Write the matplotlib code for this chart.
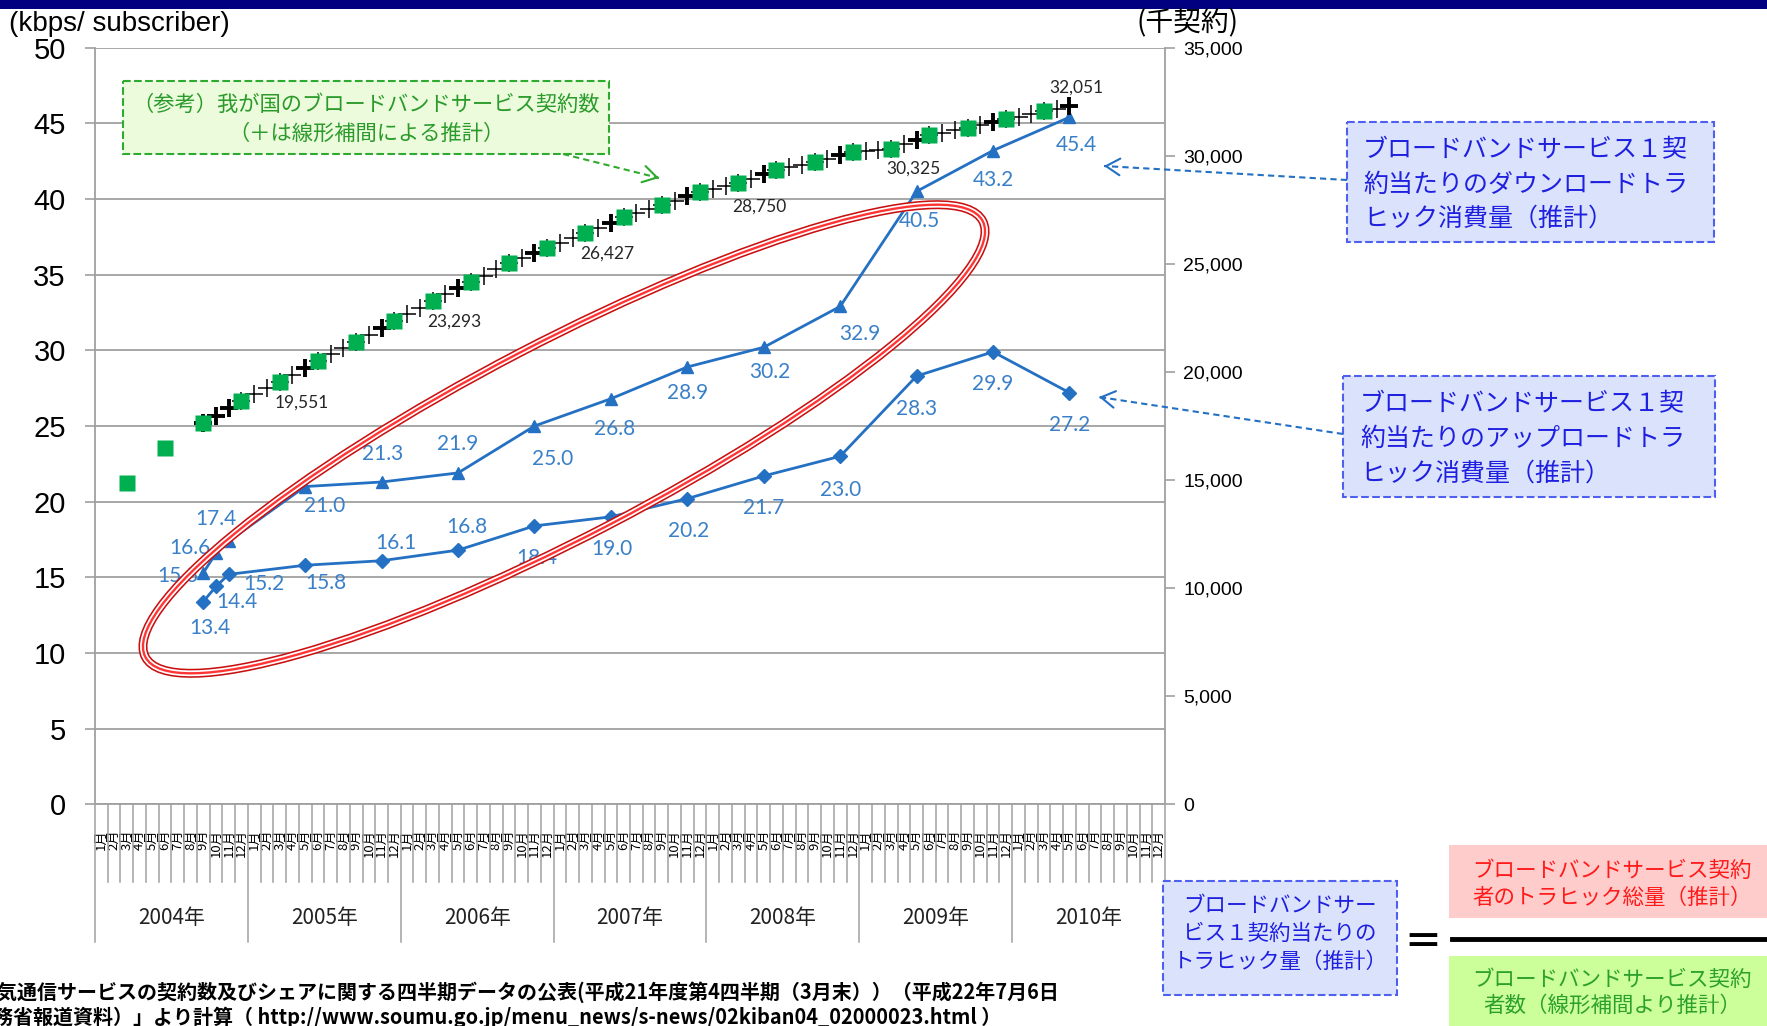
import matplotlib
matplotlib.use('Agg')
import matplotlib.pyplot as plt
import pandas as pd
from matplotlib.patches import Ellipse, Rectangle, FancyArrowPatch
from matplotlib.lines import Line2D
from matplotlib.transforms import Affine2D, blended_transform_factory

JP = 'Noto Sans CJK JP'
plt.rcParams['font.family'] = [JP, 'DejaVu Sans']

# ---------------- data ----------------
years = ['2004年', '2005年', '2006年', '2007年', '2008年', '2009年', '2010年']
month_names = ['1月', '2月', '3月', '4月', '5月', '6月', '7月', '8月', '9月', '10月', '11月', '12月']

traffic_months = ['2004-09', '2004-10', '2004-11', '2005-05', '2005-11', '2006-05', '2006-11',
                  '2007-05', '2007-11', '2008-05', '2008-11', '2009-05', '2009-11', '2010-05']
download_kbps = [15.3, 16.6, 17.4, 21.0, 21.3, 21.9, 25.0, 26.8, 28.9, 30.2, 32.9, 40.5, 43.2, 45.4]
upload_kbps = [13.4, 14.4, 15.2, 15.8, 16.1, 16.8, 18.4, 19.0, 20.2, 21.7, 23.0, 28.3, 29.9, 27.2]

quarter_months = ['2004-03', '2004-06', '2004-09', '2004-12', '2005-03', '2005-06', '2005-09', '2005-12',
                  '2006-03', '2006-06', '2006-09', '2006-12', '2007-03', '2007-06', '2007-09', '2007-12',
                  '2008-03', '2008-06', '2008-09', '2008-12', '2009-03', '2009-06', '2009-09', '2009-12',
                  '2010-03']
subs_quarterly = [14880, 16500, 17620, 18660, 19551, 20520, 21400, 22360,
                  23293, 24180, 25020, 25720, 26427, 27150, 27730, 28310,
                  28750, 29330, 29720, 30180, 30325, 30940, 31300, 31690,
                  32051]

# monthly estimates ("+" markers), Sep 2004 .. May 2010
est_first, est_last = '2004-09', '2010-05'
subs_estimated = [17620, 17970, 18310, 18660, 18960, 19250, 19551, 19870, 20200, 20520,
                  20810, 21110, 21400, 21720, 22040, 22360, 22670, 22980, 23293, 23590,
                  23880, 24180, 24460, 24740, 25020, 25250, 25490, 25720, 25960, 26190,
                  26427, 26670, 26910, 27150, 27340, 27540, 27730, 27920, 28120, 28310,
                  28460, 28600, 28750, 28940, 29140, 29330, 29460, 29590, 29720, 29870,
                  30030, 30180, 30230, 30280, 30325, 30530, 30740, 30940, 31060, 31180,
                  31300, 31430, 31560, 31690, 31810, 31930, 32051, 32170, 32290]

labelled_quarters = ['2005-03', '2006-03', '2007-03', '2008-03', '2009-03', '2010-03']

left_ticks = [0, 5, 10, 15, 20, 25, 30, 35, 40, 45, 50]
right_ticks = [0, 5000, 10000, 15000, 20000, 25000, 30000, 35000]

# ---------------- styling ----------------
W, H = 1767, 1026
LINE = '#2470c2'
LBL = '#3a80c8'
GRID = '#a0a0a0'

dl_off = [(-18, -2), (-19, 4), (-9, 16), (14, -14), (1, 20), (0, 21), (13, -24),
          (3, -22), (0, -19), (4, -18), (14, -20), (2, -21), (0, -21), (5, -20)]
ul_off = [(5, -19), (15, -11), (25, -7), (15, -13), (10, 13), (6, 17), (2, -23),
          (1, -23), (1, -23), (0, -23), (0, -24), (0, -24), (0, -23), (0, -23)]
sub_off = [(16, -15), (16, -15), (16, -15), (15, -17), (16, -14), (23, 17)]


def idx(s):
    y, m = map(int, s.split('-'))
    return (y - 2004) * 12 + m - 1


fig = plt.figure(figsize=(W / 100, H / 100), dpi=100)
PX = Affine2D().scale(1 / W, -1 / H).translate(0, 1) + fig.transFigure

ax = fig.add_axes([95 / W, 1 - 804.4 / H, 1070 / W, 756.8 / H])
ax2 = ax.twinx()

tx = [idx(m) for m in traffic_months]
qx = [idx(m) for m in quarter_months]
ex = [idx(str(p)) for p in pd.period_range(est_first, est_last, freq='M')]

ax.set_xlim(-0.5, 83.5)
ax.set_ylim(0, 50)
ax2.set_ylim(0, 35000)

# grid
ax.set_yticks(left_ticks)
ax.yaxis.grid(True, color=GRID, lw=1.3)
ax.set_axisbelow(True)

# traffic series
ax.plot(tx, download_kbps, color=LINE, lw=2.0, marker='^', ms=9, zorder=3)
ax.plot(tx, upload_kbps, color=LINE, lw=2.0, marker='D', ms=7.5, zorder=3)
for x, v, o in zip(tx, download_kbps, dl_off):
    ax.annotate(f'{v:.1f}', (x, v), xytext=o, textcoords='offset points', ha='center', va='center',
                color=LBL, fontsize=15, family=['Lato', 'DejaVu Sans'], zorder=4)
for x, v, o in zip(tx, upload_kbps, ul_off):
    ax.annotate(f'{v:.1f}', (x, v), xytext=o, textcoords='offset points', ha='center', va='center',
                color=LBL, fontsize=15, family=['Lato', 'DejaVu Sans'], zorder=4)

# subscribers
ax2.plot(ex, subs_estimated, ls='none', marker='+', ms=13, mew=1.1, color='black', zorder=2)
bold = [(x, v) for x, v in zip(ex, subs_estimated) if x in tx]
ax2.plot([b[0] for b in bold], [b[1] for b in bold], ls='none', marker='+', ms=13, mew=2.8,
         color='black', zorder=2)
ax2.plot(qx, subs_quarterly, ls='none', marker='s', ms=12, color='#00b050', mec='none', zorder=3)
qval = dict(zip(quarter_months, subs_quarterly))
for m, o in zip(labelled_quarters, sub_off):
    ax2.annotate(f'{qval[m]:,}', (idx(m), qval[m]), xytext=o, textcoords='offset points',
                 ha='center', va='center', fontsize=12.5, color='#262626',
                 family=['Lato', 'DejaVu Sans'])

# axes styling
for s in ['top', 'right']:
    ax.spines[s].set_visible(False)
for s in ['top', 'left', 'bottom']:
    ax2.spines[s].set_visible(False)
ax.spines['left'].set_color(GRID)
ax.spines['bottom'].set_color(GRID)
ax2.spines['right'].set_color(GRID)
for sp in [ax.spines['left'], ax.spines['bottom'], ax2.spines['right']]:
    sp.set_linewidth(1.3)

ax.tick_params(axis='y', direction='out', length=7, width=1.2, color=GRID, pad=14)
ax.set_yticklabels([str(t) for t in left_ticks], fontsize=21,
                   family=['Liberation Sans Narrow', 'Liberation Sans'])
ax2.set_yticks(right_ticks)
ax2.set_yticklabels([f'{t:,}' for t in right_ticks], fontsize=14, family=['Liberation Sans'])
ax2.tick_params(axis='y', direction='out', length=7, width=1.2, color=GRID, pad=6)

ax.set_xticks(range(84))
ax.set_xticklabels(month_names * 7, rotation=90, fontsize=9.5, va='top', ha='center')
ax.tick_params(axis='x', length=0, pad=18)

trans = blended_transform_factory(ax.transData, ax.transAxes)
for i in range(85):
    low = -0.182 if i % 12 == 0 else -0.1025
    ax.add_line(Line2D([i - 0.5, i - 0.5], [0, low], transform=trans, color=GRID, lw=1.1,
                       clip_on=False))
for k, yname in enumerate(years):
    ax.text(12 * k + 5.5, -0.150, yname, transform=trans, ha='center', va='center', fontsize=15,
            color='#222222')

# axis titles
fig.text(9, 24, '(kbps/ subscriber)', transform=PX, ha='left', va='center', fontsize=20,
         family=['Liberation Sans'])
fig.text(1136, 23, '(千契約)', transform=PX, ha='left', va='center', fontsize=20)

# top navy bar
fig.add_artist(Rectangle((0, 0), W, 9, transform=PX, fc='#000080', ec='none'))

# red ellipse
for lw, c in [(6.5, '#c81010'), (4.2, 'white'), (1.7, '#ff3535')]:
    fig.add_artist(Ellipse((564, 439), 944, 194, angle=-27.5, transform=PX, fill=False,
                           lw=lw, ec=c, zorder=6))


def box(x0, y0, x1, y1, fc, ec=None, ls='--'):
    fig.add_artist(Rectangle((x0, y0), x1 - x0, y1 - y0, transform=PX, fc=fc,
                             ec=ec if ec else 'none', lw=1.5, ls=ls, zorder=5))


def arrow(p0, p1, color):
    fig.add_artist(Line2D([p0[0], p1[0]], [p0[1], p1[1]], transform=PX, color=color, lw=1.5,
                          ls=(0, (3, 2)), zorder=6))
    dx, dy = p1[0] - p0[0], p1[1] - p0[1]
    fig.add_artist(FancyArrowPatch((p1[0] - dx * 0.02, p1[1] - dy * 0.02), p1, transform=PX,
                                   arrowstyle='->,head_length=10,head_width=6', color=color,
                                   lw=1.5, mutation_scale=1, zorder=6))


# green note
GT = '#2a9a2a'
box(123, 81, 609, 154, '#ebfbdc', '#2eaa2e')
fig.text(366, 105, '（参考）我が国のブロードバンドサービス契約数', transform=PX, ha='center',
         va='center', fontsize=15.3, color=GT, zorder=7)
fig.text(366, 134, '（＋は線形補間による推計）', transform=PX, ha='center', va='center',
         fontsize=15.3, color=GT, zorder=7)
arrow((563, 154), (659, 178), '#2eaa2e')

# blue notes
BT = '#1f1fe0'
box(1347, 122, 1714, 242, '#dae3fb', '#4f5ff0')
for y, s in zip([150, 185, 219], ['ブロードバンドサービス１契', '約当たりのダウンロードトラ',
                                  'ヒック消費量（推計）']):
    fig.text(1363, y, s, transform=PX, ha='left', va='center', fontsize=18, color=BT, zorder=7)
arrow((1347, 180), (1104, 166), LINE)

box(1343, 376, 1715, 497, '#dae3fb', '#4f5ff0')
for y, s in zip([404, 439, 474], ['ブロードバンドサービス１契', '約当たりのアップロードトラ',
                                  'ヒック消費量（推計）']):
    fig.text(1360, y, s, transform=PX, ha='left', va='center', fontsize=18, color=BT, zorder=7)
arrow((1343, 434), (1099, 397), LINE)

# formula
box(1163, 881, 1397, 995, '#dae3fb', '#4f5ff0')
for y, s in zip([906, 934, 962], ['ブロードバンドサー', 'ビス１契約当たりの', 'トラヒック量（推計）']):
    fig.text(1280, y, s, transform=PX, ha='center', va='center', fontsize=15.5, color=BT, zorder=7)
fig.text(1423, 944, '＝', transform=PX, ha='center', va='center', fontsize=28,
         fontweight='bold', color='black', zorder=7)
fig.add_artist(Line2D([1452, 1767], [939, 939], transform=PX, color='black', lw=3.5, zorder=7))
box(1449, 845, 1767, 918, '#ffcccc', None, '-')
for y, s in zip([871, 898], ['ブロードバンドサービス契約', '者のトラヒック総量（推計）']):
    fig.text(1612, y, s, transform=PX, ha='center', va='center', fontsize=15.5, color='#ff1a1a',
             zorder=7)
box(1449, 956, 1767, 1026, '#ccff99', None, '-')
for y, s in zip([980, 1006], ['ブロードバンドサービス契約', '者数（線形補間より推計）']):
    fig.text(1612, y, s, transform=PX, ha='center', va='center', fontsize=15.5, color='#2ca02c',
             zorder=7)

# source (left edge cut off, as in the original slide)
fig.text(-22, 992, '電気通信サービスの契約数及びシェアに関する四半期データの公表(平成21年度第4四半期（3月末））（平成22年7月6日',
         transform=PX, ha='left', va='center', fontsize=14.4, fontweight='bold', color='black')
fig.text(-27, 1017, '総務省報道資料）」より計算（ http://www.soumu.go.jp/menu_news/s-news/02kiban04_02000023.html ）',
         transform=PX, ha='left', va='center', fontsize=14.4, fontweight='bold', color='black')

fig.savefig('out.png', dpi=100)
